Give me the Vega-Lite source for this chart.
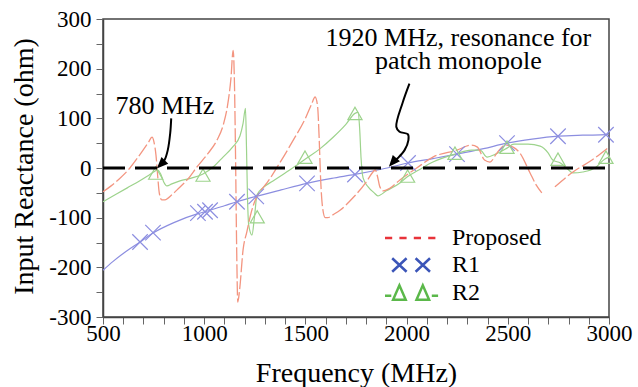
{
  "$schema": "https://vega.github.io/schema/vega-lite/v6.json",
  "width": 506,
  "height": 298,
  "autosize": {"type": "none"},
  "padding": {"left": 103, "top": 19, "right": 29, "bottom": 70},
  "background": "white",
  "view": {"stroke": "#444", "strokeWidth": 1.5},
  "config": {
    "font": "Liberation Serif",
    "view": {"stroke": "#444", "strokeWidth": 1.5},
    "axis": {"labelFont": "Liberation Serif", "titleFont": "Liberation Serif", "labelFontSize": 23, "titleFontSize": 28, "titleFontWeight": "normal", "labelOverlap": false},
    "style": {"guide-label": {"font": "Liberation Serif", "fontSize": 23, "fill": "black"}, "guide-title": {"font": "Liberation Serif", "fontSize": 28, "fontWeight": "normal", "fill": "black"}}
  },
  "datasets": {
    "curves": [
      {"s": "Proposed", "g": 1, "f": 500, "x": -48},
      {"s": "Proposed", "g": 1, "f": 540, "x": -36},
      {"s": "Proposed", "g": 1, "f": 580, "x": -22},
      {"s": "Proposed", "g": 1, "f": 633, "x": 0},
      {"s": "Proposed", "g": 1, "f": 670, "x": 20},
      {"s": "Proposed", "g": 1, "f": 698, "x": 36},
      {"s": "Proposed", "g": 1, "f": 725, "x": 52},
      {"s": "Proposed", "g": 1, "f": 742, "x": 62},
      {"s": "Proposed", "g": 1, "f": 752, "x": 52},
      {"s": "Proposed", "g": 1, "f": 762, "x": 25},
      {"s": "Proposed", "g": 1, "f": 770, "x": -15},
      {"s": "Proposed", "g": 1, "f": 778, "x": -50},
      {"s": "Proposed", "g": 1, "f": 790, "x": -64},
      {"s": "Proposed", "g": 1, "f": 806, "x": -64},
      {"s": "Proposed", "g": 1, "f": 840, "x": -54},
      {"s": "Proposed", "g": 1, "f": 866, "x": -44},
      {"s": "Proposed", "g": 1, "f": 920, "x": -22},
      {"s": "Proposed", "g": 1, "f": 964, "x": 2},
      {"s": "Proposed", "g": 1, "f": 1020, "x": 30},
      {"s": "Proposed", "g": 1, "f": 1063, "x": 56},
      {"s": "Proposed", "g": 1, "f": 1095, "x": 88},
      {"s": "Proposed", "g": 1, "f": 1115, "x": 125},
      {"s": "Proposed", "g": 1, "f": 1132, "x": 180},
      {"s": "Proposed", "g": 1, "f": 1143, "x": 237},
      {"s": "Proposed", "g": 1, "f": 1150, "x": 160},
      {"s": "Proposed", "g": 1, "f": 1155, "x": 20},
      {"s": "Proposed", "g": 1, "f": 1160, "x": -150},
      {"s": "Proposed", "g": 1, "f": 1166, "x": -270},
      {"s": "Proposed", "g": 1, "f": 1175, "x": -245},
      {"s": "Proposed", "g": 1, "f": 1192, "x": -165},
      {"s": "Proposed", "g": 1, "f": 1211, "x": -128},
      {"s": "Proposed", "g": 1, "f": 1232, "x": -90},
      {"s": "Proposed", "g": 1, "f": 1255, "x": -62},
      {"s": "Proposed", "g": 1, "f": 1280, "x": -45},
      {"s": "Proposed", "g": 1, "f": 1310, "x": -30},
      {"s": "Proposed", "g": 1, "f": 1370, "x": 8},
      {"s": "Proposed", "g": 1, "f": 1440, "x": 56},
      {"s": "Proposed", "g": 1, "f": 1500, "x": 100},
      {"s": "Proposed", "g": 1, "f": 1530, "x": 128},
      {"s": "Proposed", "g": 1, "f": 1548, "x": 143},
      {"s": "Proposed", "g": 1, "f": 1560, "x": 125},
      {"s": "Proposed", "g": 1, "f": 1568, "x": 60},
      {"s": "Proposed", "g": 1, "f": 1575, "x": -20},
      {"s": "Proposed", "g": 1, "f": 1585, "x": -80},
      {"s": "Proposed", "g": 1, "f": 1598, "x": -100},
      {"s": "Proposed", "g": 1, "f": 1610, "x": -100},
      {"s": "Proposed", "g": 1, "f": 1640, "x": -93},
      {"s": "Proposed", "g": 1, "f": 1671, "x": -85},
      {"s": "Proposed", "g": 1, "f": 1735, "x": -60},
      {"s": "Proposed", "g": 1, "f": 1804, "x": -26},
      {"s": "Proposed", "g": 1, "f": 1830, "x": -10},
      {"s": "Proposed", "g": 1, "f": 1845, "x": -4},
      {"s": "Proposed", "g": 1, "f": 1855, "x": -15},
      {"s": "Proposed", "g": 1, "f": 1868, "x": -38},
      {"s": "Proposed", "g": 1, "f": 1885, "x": -46},
      {"s": "Proposed", "g": 1, "f": 1920, "x": -40},
      {"s": "Proposed", "g": 1, "f": 1967, "x": -24},
      {"s": "Proposed", "g": 1, "f": 2050, "x": 0},
      {"s": "Proposed", "g": 1, "f": 2130, "x": 22},
      {"s": "Proposed", "g": 1, "f": 2249, "x": 36},
      {"s": "Proposed", "g": 1, "f": 2320, "x": 46},
      {"s": "Proposed", "g": 1, "f": 2350, "x": 42},
      {"s": "Proposed", "g": 1, "f": 2385, "x": 16},
      {"s": "Proposed", "g": 1, "f": 2412, "x": 12},
      {"s": "Proposed", "g": 1, "f": 2446, "x": 30},
      {"s": "Proposed", "g": 1, "f": 2486, "x": 46},
      {"s": "Proposed", "g": 1, "f": 2526, "x": 42},
      {"s": "Proposed", "g": 1, "f": 2560, "x": 30},
      {"s": "Proposed", "g": 1, "f": 2610, "x": -10},
      {"s": "Proposed", "g": 1, "f": 2640, "x": -34},
      {"s": "Proposed", "g": 1, "f": 2668, "x": -50},
      {"s": "Proposed", "g": 2, "f": 2733, "x": -38},
      {"s": "Proposed", "g": 2, "f": 2822, "x": -8},
      {"s": "Proposed", "g": 2, "f": 2916, "x": 16},
      {"s": "Proposed", "g": 2, "f": 3000, "x": 42},

      {"s": "R1", "g": 1, "f": 500, "x": -206},
      {"s": "R1", "g": 1, "f": 550, "x": -188},
      {"s": "R1", "g": 1, "f": 600, "x": -172},
      {"s": "R1", "g": 1, "f": 683, "x": -149},
      {"s": "R1", "g": 1, "f": 747, "x": -131},
      {"s": "R1", "g": 1, "f": 850, "x": -110},
      {"s": "R1", "g": 1, "f": 969, "x": -92},
      {"s": "R1", "g": 1, "f": 1004, "x": -88},
      {"s": "R1", "g": 1, "f": 1029, "x": -85},
      {"s": "R1", "g": 1, "f": 1100, "x": -76},
      {"s": "R1", "g": 1, "f": 1162, "x": -68},
      {"s": "R1", "g": 1, "f": 1257, "x": -57},
      {"s": "R1", "g": 1, "f": 1380, "x": -44},
      {"s": "R1", "g": 1, "f": 1508, "x": -31},
      {"s": "R1", "g": 1, "f": 1630, "x": -21},
      {"s": "R1", "g": 1, "f": 1745, "x": -13},
      {"s": "R1", "g": 1, "f": 1880, "x": -2},
      {"s": "R1", "g": 1, "f": 2007, "x": 10},
      {"s": "R1", "g": 1, "f": 2130, "x": 19},
      {"s": "R1", "g": 1, "f": 2249, "x": 28},
      {"s": "R1", "g": 1, "f": 2380, "x": 39},
      {"s": "R1", "g": 1, "f": 2496, "x": 50},
      {"s": "R1", "g": 1, "f": 2620, "x": 58},
      {"s": "R1", "g": 1, "f": 2748, "x": 64},
      {"s": "R1", "g": 1, "f": 2870, "x": 66},
      {"s": "R1", "g": 1, "f": 2985, "x": 67},
      {"s": "R1", "g": 1, "f": 3000, "x": 68},

      {"s": "R2", "g": 1, "f": 500, "x": -68},
      {"s": "R2", "g": 1, "f": 560, "x": -54},
      {"s": "R2", "g": 1, "f": 620, "x": -40},
      {"s": "R2", "g": 1, "f": 680, "x": -26},
      {"s": "R2", "g": 1, "f": 720, "x": -16},
      {"s": "R2", "g": 1, "f": 750, "x": -8},
      {"s": "R2", "g": 1, "f": 770, "x": -4},
      {"s": "R2", "g": 1, "f": 785, "x": -12},
      {"s": "R2", "g": 1, "f": 800, "x": -28},
      {"s": "R2", "g": 1, "f": 816, "x": -36},
      {"s": "R2", "g": 1, "f": 840, "x": -32},
      {"s": "R2", "g": 1, "f": 880, "x": -26},
      {"s": "R2", "g": 1, "f": 940, "x": -20},
      {"s": "R2", "g": 1, "f": 994, "x": -12},
      {"s": "R2", "g": 1, "f": 1050, "x": 4},
      {"s": "R2", "g": 1, "f": 1093, "x": 22},
      {"s": "R2", "g": 1, "f": 1140, "x": 42},
      {"s": "R2", "g": 1, "f": 1177, "x": 65},
      {"s": "R2", "g": 1, "f": 1192, "x": 90},
      {"s": "R2", "g": 1, "f": 1204, "x": 120},
      {"s": "R2", "g": 1, "f": 1209, "x": 40},
      {"s": "R2", "g": 1, "f": 1214, "x": -60},
      {"s": "R2", "g": 1, "f": 1220, "x": -115},
      {"s": "R2", "g": 1, "f": 1236, "x": -135},
      {"s": "R2", "g": 1, "f": 1248, "x": -100},
      {"s": "R2", "g": 1, "f": 1261, "x": -54},
      {"s": "R2", "g": 1, "f": 1290, "x": -40},
      {"s": "R2", "g": 1, "f": 1340, "x": -26},
      {"s": "R2", "g": 1, "f": 1400, "x": -10},
      {"s": "R2", "g": 1, "f": 1473, "x": 10},
      {"s": "R2", "g": 1, "f": 1500, "x": 18},
      {"s": "R2", "g": 1, "f": 1570, "x": 38},
      {"s": "R2", "g": 1, "f": 1637, "x": 62},
      {"s": "R2", "g": 1, "f": 1700, "x": 88},
      {"s": "R2", "g": 1, "f": 1745, "x": 110},
      {"s": "R2", "g": 1, "f": 1760, "x": 112},
      {"s": "R2", "g": 1, "f": 1768, "x": 80},
      {"s": "R2", "g": 1, "f": 1775, "x": 20},
      {"s": "R2", "g": 1, "f": 1785, "x": -20},
      {"s": "R2", "g": 1, "f": 1810, "x": -38},
      {"s": "R2", "g": 1, "f": 1840, "x": -50},
      {"s": "R2", "g": 1, "f": 1858, "x": -56},
      {"s": "R2", "g": 1, "f": 1900, "x": -46},
      {"s": "R2", "g": 1, "f": 1967, "x": -30},
      {"s": "R2", "g": 1, "f": 2002, "x": -18},
      {"s": "R2", "g": 1, "f": 2060, "x": -4},
      {"s": "R2", "g": 1, "f": 2130, "x": 12},
      {"s": "R2", "g": 1, "f": 2239, "x": 28},
      {"s": "R2", "g": 1, "f": 2320, "x": 36},
      {"s": "R2", "g": 1, "f": 2363, "x": 36},
      {"s": "R2", "g": 1, "f": 2398, "x": 22},
      {"s": "R2", "g": 1, "f": 2440, "x": 28},
      {"s": "R2", "g": 1, "f": 2496, "x": 40},
      {"s": "R2", "g": 1, "f": 2530, "x": 48},
      {"s": "R2", "g": 1, "f": 2600, "x": 48},
      {"s": "R2", "g": 1, "f": 2660, "x": 44},
      {"s": "R2", "g": 1, "f": 2700, "x": 30},
      {"s": "R2", "g": 1, "f": 2722, "x": 16},
      {"s": "R2", "g": 1, "f": 2760, "x": 10},
      {"s": "R2", "g": 1, "f": 2795, "x": -2},
      {"s": "R2", "g": 1, "f": 2822, "x": -10},
      {"s": "R2", "g": 1, "f": 2870, "x": -8},
      {"s": "R2", "g": 1, "f": 2930, "x": 0},
      {"s": "R2", "g": 1, "f": 2980, "x": 18},
      {"s": "R2", "g": 1, "f": 3000, "x": 22}
    ],
    "zero": [
      {"f": 500, "x": 0},
      {"f": 3000, "x": 0}
    ],
    "markers": [
      {"s": "R1", "f": 683, "x": -149},
      {"s": "R1", "f": 747, "x": -130},
      {"s": "R1", "f": 969, "x": -91},
      {"s": "R1", "f": 1004, "x": -88},
      {"s": "R1", "f": 1029, "x": -85},
      {"s": "R1", "f": 1162, "x": -68},
      {"s": "R1", "f": 1257, "x": -57},
      {"s": "R1", "f": 1508, "x": -31},
      {"s": "R1", "f": 1745, "x": -13},
      {"s": "R1", "f": 2007, "x": 10},
      {"s": "R1", "f": 2249, "x": 28},
      {"s": "R1", "f": 2496, "x": 50},
      {"s": "R1", "f": 2748, "x": 64},
      {"s": "R1", "f": 2985, "x": 67},
      {"s": "R2", "f": 760, "x": -12},
      {"s": "R2", "f": 994, "x": -16},
      {"s": "R2", "f": 1262, "x": -100},
      {"s": "R2", "f": 1498, "x": 20},
      {"s": "R2", "f": 1745, "x": 108},
      {"s": "R2", "f": 2005, "x": -18},
      {"s": "R2", "f": 2239, "x": 28},
      {"s": "R2", "f": 2496, "x": 40},
      {"s": "R2", "f": 2748, "x": 16},
      {"s": "R2", "f": 2985, "x": 20}
    ],
    "arrows": [
      {"a": 1, "i": 1, "f": 837, "x": 100},
      {"a": 1, "i": 2, "f": 832, "x": 70},
      {"a": 1, "i": 3, "f": 820, "x": 36},
      {"a": 1, "i": 4, "f": 804, "x": 16},
      {"a": 1, "i": 5, "f": 786, "x": 8},
      {"a": 2, "i": 1, "f": 2014, "x": 170},
      {"a": 2, "i": 2, "f": 1980, "x": 131},
      {"a": 2, "i": 3, "f": 1949, "x": 83},
      {"a": 2, "i": 4, "f": 1965, "x": 73},
      {"a": 2, "i": 5, "f": 2006, "x": 68},
      {"a": 2, "i": 6, "f": 2009, "x": 56},
      {"a": 2, "i": 7, "f": 1990, "x": 36},
      {"a": 2, "i": 8, "f": 1957, "x": 20},
      {"a": 2, "i": 9, "f": 1935, "x": 12}
    ],
    "heads": [
      {"a": 1, "f": 788, "x": 8},
      {"a": 2, "f": 1933, "x": 12}
    ],
    "notes": [
      {"f": 806, "x": 109, "label": "780 MHz"},
      {"f": 2256, "x": 245, "label": "1920 MHz, resonance for"},
      {"f": 2256, "x": 199, "label": "patch monopole"}
    ]
  },
  "encoding": {
    "x": {
      "field": "f", "type": "quantitative", "title": "Frequency (MHz)",
      "scale": {"domain": [500, 3000], "nice": false, "zero": false},
      "axis": {
        "values": [500,600,700,800,900,1000,1100,1200,1300,1400,1500,1600,1700,1800,1900,2000,2100,2200,2300,2400,2500,2600,2700,2800,2900,3000],
        "labelExpr": "datum.value % 500 === 0 ? '' + datum.value : ''",
        "tickSize": 7,
        "encode": {"ticks": {"update": {"y2": {"signal": "datum.value % 500 === 0 ? -7 : -4"}}}},
        "grid": false,
        "labelFont": "Liberation Serif",
        "titleFont": "Liberation Serif",
        "labelColor": "black",
        "titleColor": "black",
        "labelFontSize": 23,
        "titleFontSize": 28,
        "titleFontWeight": "normal",
        "tickColor": "#666",
        "tickWidth": 1,
        "domainColor": "#444",
        "domainWidth": 1.5,
        "labelOverlap": false,
        "labelFlush": false,
        "labelBound": false,
        "labelPadding": -2,
        "titleY": 64,
        "titleBaseline": "alphabetic"
      }
    },
    "y": {
      "field": "x", "type": "quantitative", "title": "Input Reactance (ohm)",
      "scale": {"domain": [-300, 300], "nice": false, "zero": false},
      "axis": {
        "values": [-300,-250,-200,-150,-100,-50,0,50,100,150,200,250,300],
        "labelExpr": "datum.value % 100 === 0 ? '' + datum.value : ''",
        "tickSize": 7,
        "encode": {"ticks": {"update": {"x2": {"signal": "datum.value % 100 === 0 ? 7 : 4"}}}},
        "grid": false,
        "labelFont": "Liberation Serif",
        "titleFont": "Liberation Serif",
        "labelColor": "black",
        "titleColor": "black",
        "labelFontSize": 23,
        "titleFontSize": 28,
        "titleFontWeight": "normal",
        "tickColor": "#666",
        "tickWidth": 1,
        "domainColor": "#444",
        "domainWidth": 1.5,
        "labelOverlap": false,
        "labelFlush": false,
        "labelBound": false,
        "labelPadding": 5,
        "titleX": -71,
        "titleY": 147,
        "titleAngle": -90,
        "titleBaseline": "alphabetic",
        "titleAlign": "center"
      }
    }
  },
  "layer": [
    {
      "data": {"name": "curves"},
      "transform": [{"filter": "datum.s === 'R1'"}],
      "mark": {"type": "line", "color": "#8c8ee0", "strokeWidth": 1.2, "interpolate": "monotone"},
      "encoding": {"detail": {"field": "g"}}
    },
    {
      "data": {"name": "curves"},
      "transform": [{"filter": "datum.s === 'R2'"}],
      "mark": {"type": "line", "color": "#9dd38c", "strokeWidth": 1.2, "interpolate": "monotone"},
      "encoding": {"detail": {"field": "g"}}
    },
    {
      "data": {"name": "curves"},
      "transform": [{"filter": "datum.s === 'Proposed'"}],
      "mark": {"type": "line", "color": "#f39580", "strokeWidth": 1.3, "interpolate": "monotone", "strokeDash": [14, 3]},
      "encoding": {"detail": {"field": "g"}}
    },
    {
      "data": {"name": "markers"},
      "transform": [{"filter": "datum.s === 'R1'"}],
      "mark": {"type": "point", "shape": "M-1,-1L1,1M-1,1L1,-1", "size": 240, "filled": false, "opacity": 1, "color": "#8c8ee0", "strokeWidth": 1.2}
    },
    {
      "data": {"name": "markers"},
      "transform": [{"filter": "datum.s === 'R2'"}],
      "mark": {"type": "point", "shape": "M-1,0.75L0,-1L1,0.75Z", "size": 200, "filled": false, "opacity": 1, "color": "#9dd38c", "strokeWidth": 1.2}
    },
    {
      "data": {"name": "zero"},
      "mark": {"type": "line", "color": "black", "strokeWidth": 3, "strokeDash": [22, 10]}
    },
    {
      "data": {"name": "arrows"},
      "mark": {"type": "line", "color": "black", "strokeWidth": 2, "interpolate": "catmull-rom"},
      "encoding": {"detail": {"field": "a"}, "order": {"field": "i"}}
    },
    {
      "data": {"name": "heads"},
      "transform": [{"filter": "datum.a === 1"}],
      "mark": {"type": "point", "shape": "M0,-1L0.75,0.8L-0.75,0.8Z", "size": 160, "filled": true, "opacity": 1, "color": "black", "angle": 225}
    },
    {
      "data": {"name": "heads"},
      "transform": [{"filter": "datum.a === 2"}],
      "mark": {"type": "point", "shape": "M0,-1L0.75,0.8L-0.75,0.8Z", "size": 160, "filled": true, "opacity": 1, "color": "black", "angle": 221}
    },
    {
      "data": {"name": "notes"},
      "mark": {"type": "text", "font": "Liberation Serif", "fontSize": 26, "color": "black", "align": "center", "baseline": "alphabetic"},
      "encoding": {"text": {"field": "label"}}
    },
    {
      "data": {"name": "curves"},
      "transform": [{"filter": "false"}],
      "mark": {"type": "point", "filled": false, "opacity": 1, "size": 324, "strokeWidth": 2.5},
      "encoding": {
        "color": {
          "field": "s", "type": "nominal",
          "scale": {"domain": ["Proposed", "R1", "R2"], "range": ["#e8333a", "#3b55b8", "#5bb84a"]},
          "legend": {"orient": "none", "legendX": 297, "legendY": 207, "title": null, "labelFontSize": 24, "labelFont": "Liberation Serif", "labelColor": "black", "symbolSize": 324, "symbolStrokeWidth": 2.5, "labelOffset": 28, "rowPadding": 3, "padding": 0}
        },
        "shape": {
          "field": "s", "type": "nominal",
          "scale": {"domain": ["Proposed", "R1", "R2"], "range": [
            "M-3,0H-2.2M-1.4,0H-0.6M0.2,0H1M1.8,0H2.6",
            "M-2.2,-0.75L-0.6,0.75M-2.2,0.75L-0.6,-0.75M0.4,-0.75L2,0.75M0.4,0.75L2,-0.75",
            "M-3,0.3H-2.3M-2.1,0.75L-1.4,-0.85L-0.7,0.75ZM0.5,0.75L1.2,-0.85L1.9,0.75ZM2.2,0.3H2.9"
          ]},
          "legend": {"orient": "none", "legendX": 297, "legendY": 207, "title": null, "labelFontSize": 24, "labelFont": "Liberation Serif", "labelColor": "black", "symbolSize": 324, "symbolStrokeWidth": 2.5, "labelOffset": 28, "rowPadding": 3, "padding": 0}
        }
      }
    }
  ]
}
